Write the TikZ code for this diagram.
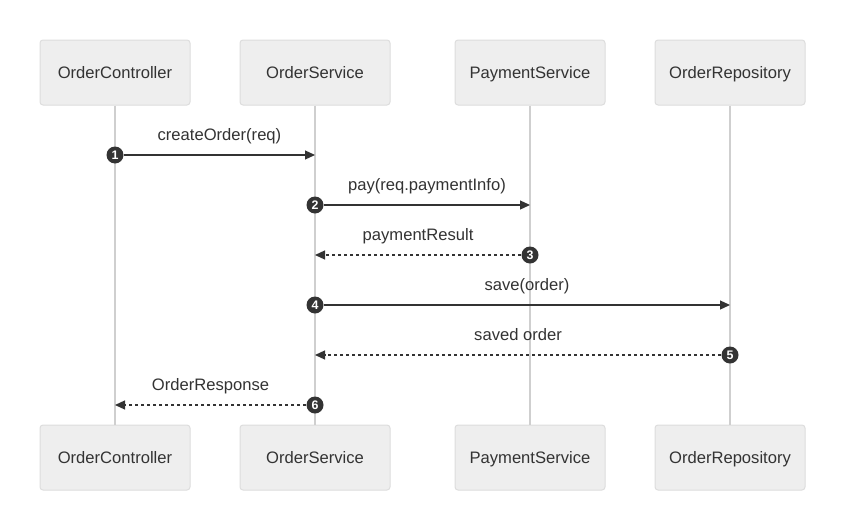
\documentclass[tikz,border=0pt]{standalone}
\usepackage{fontspec}
\setmainfont{Liberation Sans}
\usetikzlibrary{arrows.meta}

\definecolor{ink}{HTML}{333333}
\definecolor{boxfill}{HTML}{EEEEEE}
\definecolor{boxline}{HTML}{DDDDDD}
\definecolor{life}{HTML}{CFCFCF}

\begin{document}
\begin{tikzpicture}[x=0.5pt, y=-0.5pt, font=\fontsize{8.3}{10}\selectfont, text=ink,
    actor/.style={draw=boxline, fill=boxfill, rounded corners=1.5pt, line width=0.5pt,
                  minimum width=75pt, minimum height=32.5pt, text height=6pt, text depth=0.4pt},
    lifeline/.style={draw=life, line width=0.75pt},
    msg/.style={draw=ink, line width=0.6pt, -{Triangle[length=5pt,width=4.5pt]}},
    reply/.style={msg, dash pattern=on 1.5pt off 1.5pt},
    num/.style={circle, fill=ink, text=white, inner sep=0pt, minimum size=8.5pt,
                font=\fontsize{6.2}{6}\selectfont\bfseries},
    lbl/.style={above=5.5pt, inner sep=0pt, text height=6pt, text depth=1.7pt}]
        \fill[white] (0,0) rectangle (845,530);
        \useasboundingbox (0,0) rectangle (845,530);

        % Participants:
        \node[actor] (ctrlTop) at (115,72.5)  {OrderController};
        \node[actor] (svcTop)  at (315,72.5)  {OrderService};
        \node[actor] (payTop)  at (530,72.5)  {PaymentService};
        \node[actor] (repoTop) at (730,72.5)  {OrderRepository};
        \node[actor] (ctrlBot) at (115,457.5) {OrderController};
        \node[actor] (svcBot)  at (315,457.5) {OrderService};
        \node[actor] (payBot)  at (530,457.5) {PaymentService};
        \node[actor] (repoBot) at (730,457.5) {OrderRepository};

        % Lifelines:
        \draw[lifeline] (ctrlTop) -- (ctrlBot);
        \draw[lifeline] (svcTop) -- (svcBot);
        \draw[lifeline] (payTop) -- (payBot);
        \draw[lifeline] (repoTop) -- (repoBot);

        % Messages:
        \coordinate (e1) at (315,155);
        \coordinate (e2) at (530,205);
        \coordinate (e3) at (315,255);
        \coordinate (e4) at (730,305);
        \coordinate (e5) at (315,355);
        \coordinate (e6) at (115,405);

        \node[num] (n1) at (115,155) {1};
        \node[num] (n2) at (315,205) {2};
        \node[num] (n3) at (530,255) {3};
        \node[num] (n4) at (315,305) {4};
        \node[num] (n5) at (730,355) {5};
        \node[num] (n6) at (315,405) {6};

        \draw[msg]   (n1) -- node[lbl] {createOrder(req)} (e1);
        \draw[msg]   (n2) -- node[lbl] {pay(req.paymentInfo)} (e2);
        \draw[reply] (n3) -- node[lbl] {paymentResult} (e3);
        \draw[msg]   (n4) -- node[lbl] {save(order)} (e4);
        \draw[reply] (n5) -- node[lbl] {saved order} (e5);
        \draw[reply] (n6) -- node[lbl] {OrderResponse} (e6);
\end{tikzpicture}
\end{document}
